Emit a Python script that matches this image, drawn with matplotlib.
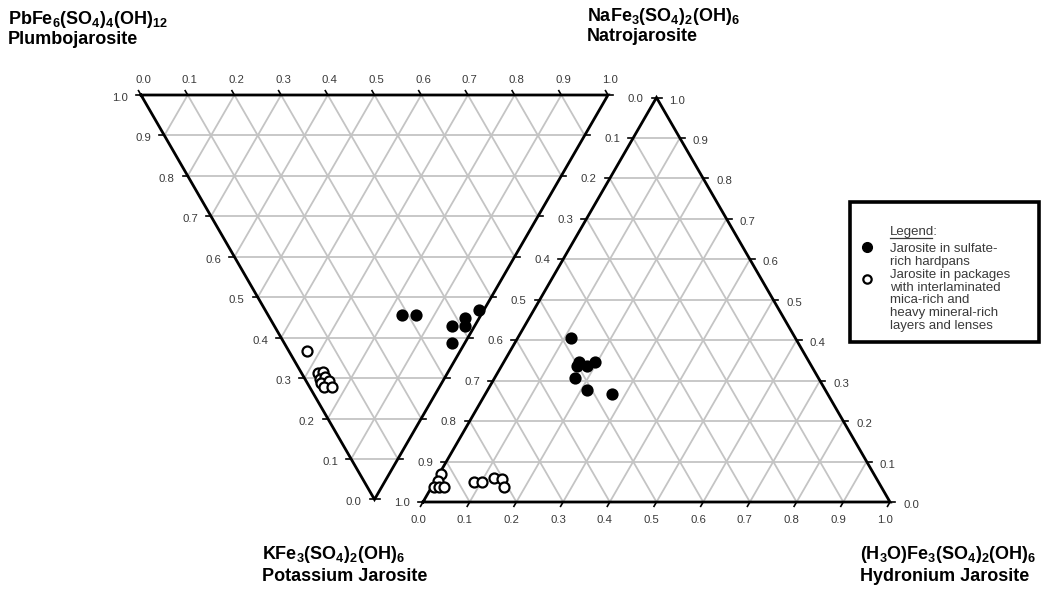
import numpy as np
import matplotlib
matplotlib.use("Agg")
import matplotlib.pyplot as plt
from matplotlib.patches import Rectangle


# === Data ===
# left triangle: Plumbojarosite - Natrojarosite - Potassium jarosite
LEFT_FILLED_NA = [0.288, 0.317, 0.381, 0.418, 0.408, 0.458, 0.360]
LEFT_FILLED_PB = [0.169, 0.140, 0.049, 0.030, 0.020, 0.010, 0.028]
LEFT_OPEN_NA = [0.038, 0.035, 0.048, 0.033, 0.045, 0.028, 0.050, 0.031, 0.049]
LEFT_OPEN_PB = [0.328, 0.277, 0.268, 0.266, 0.257, 0.259, 0.244, 0.246, 0.230]

# right triangle: Potassium jarosite - Hydronium jarosite - Natrojarosite
RIGHT_FILLED_H3O = [0.114, 0.161, 0.162, 0.183, 0.195, 0.172, 0.213, 0.271]
RIGHT_FILLED_NA = [0.405, 0.346, 0.336, 0.336, 0.346, 0.307, 0.277, 0.267]
RIGHT_OPEN_H3O = [0.004, 0.006, 0.005, 0.016, 0.026, 0.085, 0.102, 0.122, 0.141, 0.155]
RIGHT_OPEN_NA = [0.069, 0.052, 0.037, 0.037, 0.037, 0.049, 0.049, 0.059, 0.057, 0.037]

TICKS = np.round(np.arange(0, 1.01, 0.1), 1)

LEGEND_LINES = ["Jarosite in sulfate-", "rich hardpans",
                "Jarosite in packages", "with interlaminated", "mica-rich and",
                "heavy mineral-rich", "layers and lenses"]

# === Layout (pixel space) ===
W, H = 1041, 590
SIDE = 467.0
HGT = SIDE * np.sqrt(3) / 2
# left (inverted) triangle vertices
L_PB = np.array([141.0, 95.0])
L_NA = L_PB + [SIDE, 0]
L_K = L_PB + [SIDE / 2, HGT]
# right triangle vertices
R_K = np.array([423.0, 502.0])
R_H = R_K + [SIDE, 0]
R_NA = R_K + [SIDE / 2, -HGT]

GRID_C = "#c4c4c4"
TXT_C = "#3a3a3a"
FONT = "Liberation Sans"

plt.rcParams['mathtext.fontset'] = 'custom'
plt.rcParams['mathtext.rm'] = 'Liberation Sans:bold'
plt.rcParams['mathtext.it'] = 'Liberation Sans:bold'
plt.rcParams['mathtext.bf'] = 'Liberation Sans:bold'


def tern(a, b, va, vb, vc):
    a = np.asarray(a)
    b = np.asarray(b)
    c = 1 - a - b
    xy = np.outer(a, va) + np.outer(b, vb) + np.outer(c, vc)
    return xy[:, 0], xy[:, 1]


def draw_triangle(ax, va, vb, vc):
    for t in TICKS[1:-1]:
        for p, q, r in ((va, vb, vc), (vb, vc, va), (vc, va, vb)):
            s = t * p + (1 - t) * q
            e = t * p + (1 - t) * r
            ax.plot([s[0], e[0]], [s[1], e[1]], color=GRID_C, lw=1.3, zorder=1)
    pts = np.array([va, vb, vc, va])
    ax.plot(pts[:, 0], pts[:, 1], color="black", lw=2.0, zorder=3,
            solid_joinstyle="miter")


def edge_axis(ax, start, end, direction, offset, labels=True, tlen=5):
    d = np.asarray(direction, float)
    d = d / np.linalg.norm(d)
    for t in TICKS:
        p = (1 - t) * start + t * end
        ax.plot([p[0], p[0] + d[0] * tlen], [p[1], p[1] + d[1] * tlen],
                color="black", lw=1.2, zorder=3)
        if labels:
            ax.text(p[0] + offset[0], p[1] + offset[1], f"{t:.1f}",
                    ha="center", va="center", fontsize=8.2, color=TXT_C,
                    family=FONT)


def scatter(ax, x, y, filled):
    ax.plot(x, y, "o", ms=7.2, mew=1.6, mec="black",
            mfc="black" if filled else "white", zorder=5, ls="none")


def main():
    fig = plt.figure(figsize=(W / 100, H / 100), dpi=100)
    ax = fig.add_axes([0, 0, 1, 1])
    ax.set_xlim(0, W)
    ax.set_ylim(H, 0)
    ax.axis("off")

    # === Triangles ===
    draw_triangle(ax, L_PB, L_NA, L_K)
    draw_triangle(ax, R_K, R_H, R_NA)

    # left triangle axes
    edge_axis(ax, L_PB, L_NA, L_PB - L_K, (2, -15))
    edge_axis(ax, L_K, L_PB, (-1, 0), (-21, 3))
    edge_axis(ax, L_NA, L_K, (1, 0), (0, 0), labels=False)
    # right triangle axes
    edge_axis(ax, R_K, R_H, R_K - R_NA, (-5, 18))
    edge_axis(ax, R_H, R_NA, (1, 0), (21, 3))
    edge_axis(ax, R_NA, R_K, (-1, 0), (-21, 1))

    # === Points ===
    x, y = tern(LEFT_FILLED_PB, LEFT_FILLED_NA, L_PB, L_NA, L_K)
    scatter(ax, x, y, True)
    x, y = tern(LEFT_OPEN_PB, LEFT_OPEN_NA, L_PB, L_NA, L_K)
    scatter(ax, x, y, False)
    x, y = tern(RIGHT_FILLED_H3O, RIGHT_FILLED_NA, R_H, R_NA, R_K)
    scatter(ax, x, y, True)
    x, y = tern(RIGHT_OPEN_H3O, RIGHT_OPEN_NA, R_H, R_NA, R_K)
    scatter(ax, x, y, False)

    # === End-member labels ===
    kw = dict(fontsize=13, color="black", family=FONT, fontweight="bold",
              va="baseline", ha="left")
    ax.text(8, 24, r"$\mathrm{PbFe_6(SO_4)_4(OH)_{12}}$", **kw)
    ax.text(8, 44, "Plumbojarosite", **kw)
    ax.text(587, 21, r"$\mathrm{NaFe_3(SO_4)_2(OH)_6}$", **kw)
    ax.text(587, 41, "Natrojarosite", **kw)
    ax.text(262, 559, r"$\mathrm{KFe_3(SO_4)_2(OH)_6}$", **kw)
    ax.text(262, 581, "Potassium Jarosite", **kw)
    ax.text(860, 559, r"$\mathrm{(H_3O)Fe_3(SO_4)_2(OH)_6}$", **kw)
    ax.text(860, 581, "Hydronium Jarosite", **kw)

    # === Legend box ===
    ax.add_patch(Rectangle((850, 202), 189, 140, fill=True, fc="white",
                           ec="black", lw=2.6, zorder=6))
    lk = dict(fontsize=9.5, color=TXT_C, family=FONT, va="baseline",
              ha="left", zorder=7)
    ax.text(890, 235, "Legend:", **lk)
    ax.plot([890, 932], [237.5, 237.5], color=TXT_C, lw=0.9, zorder=7)
    for i, line in enumerate(LEGEND_LINES):
        ax.text(890, 252.5 + i * 12.7, line, **lk)
    ax.plot([867], [247], "o", ms=7, mec="black", mfc="black", zorder=7)
    ax.plot([867], [279], "o", ms=6, mew=1.6, mec="black", mfc="white",
            zorder=7)

    fig.savefig("out.png", dpi=100)
    plt.close(fig)


if __name__ == "__main__":
    main()
